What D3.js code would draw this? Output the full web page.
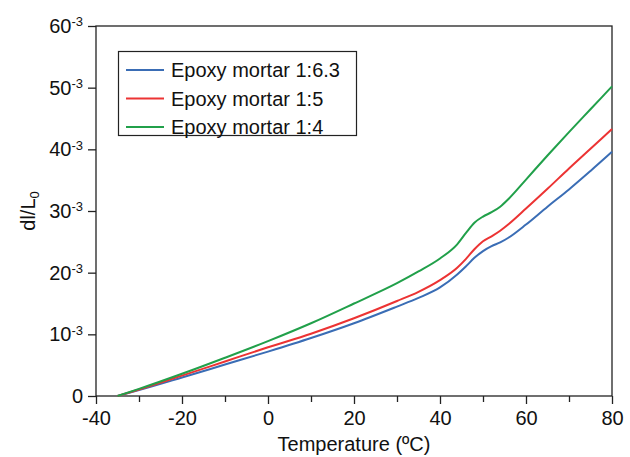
<!DOCTYPE html>
<html>
<head>
<meta charset="utf-8">
<script src="https://cdn.jsdelivr.net/npm/d3@7"></script>
<style>
  body { margin: 0; background: #fff; }
  text { font-family: "Liberation Sans", Arial, sans-serif; fill: #111; }
</style>
</head>
<body>
<div id="chart"></div>
<script>
// temperature grid (ºC) and dl/L0 values (x10^-3)
const temps = [-35, -30, -20, -10, 0, 10, 20, 30, 35, 40, 44, 46, 48, 50, 52, 54, 56, 60, 65, 70, 75, 80];
const mortar63 = [0, 0.95, 3.0, 5.1, 7.2, 9.4, 11.8, 14.5, 15.9, 17.6, 19.7, 21.0, 22.4, 23.5, 24.3, 24.9, 25.7, 27.8, 30.7, 33.5, 36.5, 39.6];
const mortar5 = [0, 1.05, 3.3, 5.6, 7.9, 10.1, 12.6, 15.4, 16.9, 18.8, 20.8, 22.2, 23.8, 25.1, 25.9, 26.8, 27.9, 30.4, 33.6, 36.9, 40.1, 43.3];
const mortar4 = [0, 1.15, 3.6, 6.2, 8.9, 11.8, 15.0, 18.3, 20.2, 22.3, 24.6, 26.4, 28.1, 29.1, 29.8, 30.7, 32.0, 35.1, 39.0, 42.8, 46.5, 50.2];
const seriesNames = ["Epoxy mortar 1:6.3", "Epoxy mortar 1:5", "Epoxy mortar 1:4"];
const xTicks = [-40, -30, -20, -10, 0, 10, 20, 30, 40, 50, 60, 70, 80];
const yTicks = [0, 10, 20, 30, 40, 50, 60];

const colors = ["#3a6db5", "#ec3333", "#21a04a"];

function chart() {
  const width = 630, height = 457,
    margin = {top: 26, right: 18, bottom: 61, left: 96};

  const x = d3.scaleLinear().domain([-40, 80]).range([margin.left, width - margin.right]);
  const y = d3.scaleLinear().domain([0, 60]).range([height - margin.bottom, margin.top]);

  const svg = d3.select("#chart").append("svg")
    .attr("width", width)
    .attr("height", height)
    .attr("viewBox", [0, 0, width, height]);

  // x axis
  const xAxis = svg.append("g")
    .attr("transform", `translate(0,${height - margin.bottom})`)
    .call(d3.axisBottom(x).tickValues(xTicks).tickSize(8).tickSizeOuter(0).tickPadding(7)
      .tickFormat(d => d % 20 === 0 ? d : ""));
  xAxis.select(".domain").remove();
  xAxis.selectAll(".tick line").attr("stroke", "#222").attr("stroke-width", 1.3)
    .attr("y2", d => d % 20 === 0 ? 8 : 6);
  xAxis.selectAll(".tick text").attr("font-size", 20).attr("fill", "#111");

  // y axis
  const yAxis = svg.append("g")
    .attr("transform", `translate(${margin.left},0)`)
    .call(d3.axisLeft(y).tickValues(yTicks).tickSize(8).tickSizeOuter(0).tickPadding(5)
      .tickFormat(d => d));
  yAxis.select(".domain").remove();
  yAxis.selectAll(".tick line").attr("stroke", "#222").attr("stroke-width", 1.3);
  yAxis.selectAll(".tick text").attr("font-size", 20).attr("fill", "#111")
    .each(function(d) {
      if (d !== 0) {
        d3.select(this).append("tspan").attr("dy", "-0.5em").attr("font-size", 13).text("-3");
      }
    });

  // frame
  svg.append("rect")
    .attr("x", margin.left).attr("y", margin.top)
    .attr("width", width - margin.left - margin.right)
    .attr("height", height - margin.top - margin.bottom)
    .attr("fill", "none").attr("stroke", "#222").attr("stroke-width", 1.3);

  const line = d3.line()
    .x((d, i) => x(temps[i]))
    .y(d => y(d))
    .curve(d3.curveMonotoneX);

  [mortar63, mortar5, mortar4].forEach((s, i) => {
    svg.append("path")
      .attr("d", line(s))
      .attr("fill", "none")
      .attr("stroke", colors[i])
      .attr("stroke-width", 2);
  });

  // legend
  const lg = svg.append("g");
  lg.append("rect")
    .attr("x", 118.5).attr("y", 51.5).attr("width", 238).attr("height", 84)
    .attr("fill", "#fff").attr("stroke", "#222").attr("stroke-width", 1.2);
  seriesNames.forEach((n, i) => {
    const yy = 70 + i * 28.5;
    lg.append("line").attr("x1", 126).attr("x2", 164).attr("y1", yy).attr("y2", yy)
      .attr("stroke", colors[i]).attr("stroke-width", 2);
    lg.append("text").attr("x", 171).attr("y", yy).attr("dy", "0.35em")
      .attr("font-size", 20).text(n);
  });

  // axis titles
  svg.append("text")
    .attr("x", (margin.left + width - margin.right) / 2)
    .attr("y", 444).attr("dy", "0.35em")
    .attr("text-anchor", "middle").attr("font-size", 20)
    .text("Temperature (ºC)");

  const yl = svg.append("text")
    .attr("transform", `translate(35,${(margin.top + height - margin.bottom) / 2}) rotate(-90)`)
    .attr("text-anchor", "middle").attr("font-size", 20);
  yl.append("tspan").text("dl/L");
  yl.append("tspan").attr("dy", "0.3em").attr("font-size", 13).text("0");
}

chart();
</script>
</body>
</html>
